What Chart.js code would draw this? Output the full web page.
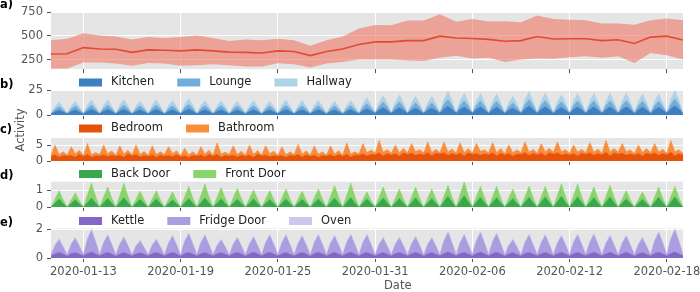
<!DOCTYPE html>
<html>
<head>
<meta charset="utf-8">
<script src="https://cdn.jsdelivr.net/npm/chart.js@4.4.1/dist/chart.umd.min.js"></script>
<style>
  body { margin: 0; width: 700px; height: 292px; overflow: hidden; position: relative; background: #fff; }
  canvas { position: absolute; left: 0; }
  .tag { position: absolute; left: 0; font: bold 11.5px "DejaVu Sans"; line-height: 11.5px; color: #000; }
  .axlab { position: absolute; font: 11.5px "DejaVu Sans"; line-height: 11.5px; color: #555; white-space: nowrap; }
</style>
</head>
<body>
<canvas id="pa" width="720" height="80" style="top:0px"></canvas>
<canvas id="pb" width="720" height="52" style="top:74px"></canvas>
<canvas id="pc" width="720" height="52" style="top:120px"></canvas>
<canvas id="pd" width="720" height="52" style="top:166px"></canvas>
<canvas id="pe" width="720" height="80" style="top:212px"></canvas>

<div class="tag" style="top:-1px">a)</div>
<div class="tag" style="top:78.5px">b)</div>
<div class="tag" style="top:123.5px">c)</div>
<div class="tag" style="top:169.5px">d)</div>
<div class="tag" style="top:217px">e)</div>
<div class="axlab" style="left:-1px;top:124px;transform:rotate(-90deg);transform-origin:21.5px 6px;">Activity</div>
<div class="axlab" style="left:384px;top:280px">Date</div>

<script>
// x axis: days counted from the first day shown
const startDay = '2020-01-11';
const xTickLabels = ['2020-01-13', '2020-01-19', '2020-01-25', '2020-01-31', '2020-02-06', '2020-02-12', '2020-02-18'];

// a) daily activity, mean with spread band (one value per day, 2020-01-11 .. 2020-02-19)
const aMean  = [310,313,377,363,360,327,353,350,343,353,343,330,327,320,343,337,293,337,363,410,
                437,437,450,450,497,477,473,463,443,450,493,467,470,470,450,460,420,487,497,457];
const aUpper = [453,470,527,503,493,463,487,477,487,503,477,447,463,453,470,453,397,453,493,577,
                613,610,660,660,727,647,677,650,653,643,713,677,670,663,630,630,617,663,683,663];
const aLower = [158,158,220,220,210,187,217,210,187,193,203,193,180,180,213,203,170,210,227,253,
                253,253,243,237,270,293,263,270,227,253,263,260,277,287,270,287,217,320,297,253];
const aTicks = [250, 500, 750];

// b)-e) values every 6 hours (00h, 06h, 12h, 18h per day), last value = 2020-02-19 00h
const kitchen = [
  1.3,3.6,5.1,3.3, 1.4,3.8,5.4,3.5, 1.4,4.1,5.9,3.8, 1.5,4.1,5.9,3.8, 1.4,4.2,6.0,3.9,
  1.3,3.8,5.4,3.5, 1.4,4.1,5.9,3.8, 1.3,3.9,5.6,3.6, 1.5,4.5,6.4,4.2, 1.3,3.9,5.6,3.6,
  1.4,3.9,5.5,3.6, 1.3,3.8,5.4,3.5, 1.4,3.9,5.6,3.6, 1.3,3.8,5.4,3.5, 1.5,4.1,5.9,3.8,
  1.3,3.9,5.6,3.6, 1.4,3.9,5.6,3.7, 1.3,3.8,5.4,3.5, 1.4,3.9,5.6,3.6, 1.6,4.7,6.7,4.4,
  1.8,5.3,7.6,4.9, 1.9,5.5,7.8,5.1, 1.8,5.1,7.3,4.7, 1.8,5.1,7.3,4.8, 2.1,6.5,9.3,6.0,
  2.0,5.9,8.4,5.5, 2.0,5.9,8.4,5.5, 1.9,5.7,8.2,5.3, 1.8,5.1,7.3,4.7, 2.1,6.4,9.1,5.9,
  2.0,6.0,8.6,5.6, 1.9,5.5,7.8,5.1, 2.0,5.9,8.4,5.5, 2.0,5.9,8.4,5.5, 2.0,5.9,8.4,5.5,
  2.0,6.0,8.6,5.6, 1.9,5.7,8.2,5.3, 1.9,5.7,8.2,5.3, 2.1,6.7,9.5,6.2, 1.6];
const lounge = [
  0.1,2.4,3.7,2.2, 0.1,2.6,4.0,2.4, 0.1,2.9,4.4,2.6, 0.1,2.9,4.4,2.6, 0.1,2.8,4.3,2.6,
  0.1,2.6,4.0,2.4, 0.1,2.9,4.4,2.6, 0.1,2.7,4.1,2.5, 0.1,3.1,4.7,2.8, 0.1,2.7,4.1,2.5,
  0.1,2.7,4.1,2.5, 0.1,2.6,4.0,2.4, 0.1,2.7,4.1,2.5, 0.1,2.6,4.0,2.4, 0.1,2.9,4.4,2.6,
  0.1,2.7,4.1,2.5, 0.1,2.7,4.1,2.5, 0.1,2.6,4.0,2.4, 0.1,2.7,4.1,2.5, 0.1,3.3,5.0,3.0,
  0.2,3.6,5.6,3.4, 0.2,3.8,5.8,3.5, 0.2,3.4,5.3,3.2, 0.2,3.4,5.3,3.2, 0.2,4.4,6.8,4.1,
  0.2,4.0,6.2,3.7, 0.2,4.0,6.2,3.7, 0.2,3.9,6.0,3.6, 0.2,3.4,5.3,3.2, 0.2,4.4,6.7,4.0,
  0.2,4.1,6.3,3.8, 0.2,3.8,5.8,3.5, 0.2,4.0,6.2,3.7, 0.2,4.0,6.2,3.7, 0.2,4.0,6.2,3.7,
  0.2,4.1,6.3,3.8, 0.2,3.9,6.0,3.6, 0.2,3.9,6.0,3.6, 0.2,4.6,7.0,4.2, 0.1];
const hallway = [
  0,2.7,4.5,2.5, 0,2.9,4.8,2.6, 0,3.2,5.3,2.9, 0,3.2,5.3,2.9, 0,3.2,5.3,2.9,
  0,2.9,4.8,2.6, 0,3.2,5.3,2.9, 0,3.0,5.0,2.8, 0,3.4,5.7,3.1, 0,3.0,5.0,2.8,
  0,2.9,4.9,2.7, 0,2.9,4.8,2.6, 0,3.0,5.0,2.8, 0,2.9,4.8,2.6, 0,3.2,5.3,2.9,
  0,3.0,5.0,2.8, 0,3.0,5.0,2.8, 0,2.9,4.8,2.6, 0,3.0,5.0,2.8, 0,3.6,6.0,3.3,
  0,4.1,6.8,3.7, 0,4.2,7.0,3.9, 0,3.9,6.5,3.6, 0,3.9,6.5,3.6, 0,5.0,8.3,4.6,
  0,4.5,7.5,4.1, 0,4.4,7.4,4.1, 0,4.4,7.3,4.0, 0,3.9,6.5,3.6, 0,4.9,8.2,4.5,
  0,4.6,7.7,4.2, 0,4.2,7.0,3.9, 0,4.4,7.4,4.1, 0,4.4,7.4,4.1, 0,4.4,7.4,4.1,
  0,4.6,7.7,4.2, 0,4.4,7.3,4.0, 0,4.4,7.3,4.0, 0,5.1,8.5,4.7, 0];

const bedroom = [
  1.5,2.0,1.2,1.8, 1.6,1.8,1.3,2.2, 1.4,2.1,1.2,1.7, 1.6,2.0,1.4,1.9, 1.5,1.9,1.2,2.3,
  1.7,2.1,1.3,1.8, 1.5,2.0,1.2,1.9, 1.6,1.8,1.4,2.0, 1.4,1.7,1.2,1.8, 1.6,2.0,1.3,2.1,
  1.5,2.2,1.2,1.8, 1.6,1.9,1.3,1.9, 1.5,2.0,1.2,2.2, 1.7,1.9,1.4,1.8, 1.5,1.8,1.2,1.9,
  1.6,2.1,1.3,2.0, 1.5,1.9,1.2,1.8, 1.6,2.0,1.4,2.1, 1.5,2.2,1.3,1.9, 1.8,2.3,1.6,2.2,
  2.0,2.6,1.7,2.4, 1.9,2.4,1.6,2.6, 2.1,2.5,1.8,2.3, 2.0,2.7,1.7,2.5, 2.2,2.6,1.8,2.4,
  2.0,2.5,1.7,2.6, 2.1,2.4,1.9,2.3, 2.0,2.6,1.7,2.5, 1.9,2.4,1.6,2.2, 2.1,2.7,1.8,2.4,
  2.0,2.5,1.7,2.6, 2.2,2.6,1.9,2.3, 2.0,2.4,1.7,2.5, 2.1,2.6,1.8,2.4, 2.0,2.8,1.7,2.6,
  2.2,2.5,1.9,2.3, 1.9,2.4,1.6,2.5, 2.1,2.6,1.8,2.4, 2.0,2.8,1.7,2.3, 1.9];
const bathroom = [
  0.4,3.0,0.9,1.1, 0.3,2.7,1.0,1.2, 0.4,3.4,0.8,1.0, 0.5,3.0,0.9,1.3, 0.4,2.9,1.0,1.1,
  0.3,2.9,0.8,1.2, 0.4,2.8,0.9,1.0, 0.5,2.7,1.0,1.2, 0.4,2.3,0.8,1.1, 0.3,2.5,0.9,1.3,
  0.4,3.5,1.0,1.0, 0.5,2.9,0.8,1.2, 0.4,3.0,0.9,1.1, 0.3,2.9,1.0,1.3, 0.4,2.7,0.8,1.0,
  0.5,3.1,0.9,1.2, 0.4,2.9,1.0,1.1, 0.3,2.8,0.8,1.2, 0.4,3.5,0.9,1.0, 0.5,3.2,1.0,1.3,
  0.5,3.9,1.1,1.2, 0.6,2.6,1.0,1.4, 0.5,3.0,1.2,1.3, 0.6,3.3,1.0,1.2, 0.5,3.4,1.1,1.4,
  0.6,3.3,1.0,1.3, 0.5,3.1,1.2,1.2, 0.6,3.2,1.0,1.4, 0.5,2.6,1.1,1.3, 0.6,3.3,1.0,1.2,
  0.5,3.0,1.2,1.4, 0.6,3.4,1.0,1.3, 0.5,2.6,1.1,1.2, 0.6,3.2,1.0,1.4, 0.5,3.7,1.2,1.3,
  0.6,3.0,1.0,1.2, 0.5,2.6,1.1,1.4, 0.6,2.9,1.0,1.3, 0.5,3.7,1.2,1.2, 0.5];

const backDoor = [
  0,0.25,0.50,0.22, 0,0.23,0.45,0.20, 0,0.28,0.55,0.25, 0,0.26,0.52,0.23, 0,0.29,0.58,0.26,
  0,0.24,0.48,0.22, 0,0.25,0.50,0.22, 0,0.22,0.44,0.20, 0,0.26,0.52,0.23, 0,0.28,0.55,0.25,
  0,0.25,0.50,0.22, 0,0.24,0.48,0.22, 0,0.25,0.50,0.22, 0,0.23,0.46,0.21, 0,0.25,0.50,0.22,
  0,0.24,0.47,0.21, 0,0.25,0.50,0.22, 0,0.28,0.55,0.25, 0,0.29,0.58,0.26, 0,0.25,0.50,0.22,
  0,0.28,0.55,0.25, 0,0.26,0.52,0.23, 0,0.28,0.56,0.25, 0,0.26,0.52,0.23, 0,0.33,0.66,0.30,
  0,0.35,0.70,0.32, 0,0.30,0.60,0.27, 0,0.29,0.58,0.26, 0,0.26,0.52,0.23, 0,0.30,0.60,0.27,
  0,0.31,0.62,0.28, 0,0.33,0.65,0.29, 0,0.31,0.62,0.28, 0,0.29,0.58,0.26, 0,0.31,0.62,0.28,
  0,0.25,0.50,0.22, 0,0.24,0.48,0.22, 0,0.30,0.60,0.27, 0,0.31,0.62,0.28, 0];
const frontDoor = [
  0,0.25,0.50,0.22, 0,0.21,0.41,0.18, 0,0.46,0.92,0.41, 0,0.35,0.69,0.31, 0,0.43,0.86,0.39,
  0,0.25,0.49,0.22, 0,0.25,0.50,0.22, 0,0.24,0.48,0.22, 0,0.37,0.74,0.33, 0,0.43,0.85,0.38,
  0,0.34,0.68,0.31, 0,0.33,0.65,0.29, 0,0.28,0.55,0.25, 0,0.27,0.54,0.24, 0,0.30,0.59,0.27,
  0,0.25,0.50,0.22, 0,0.30,0.59,0.27, 0,0.38,0.75,0.34, 0,0.43,0.86,0.39, 0,0.21,0.42,0.19,
  0,0.33,0.66,0.30, 0,0.29,0.57,0.26, 0,0.33,0.65,0.29, 0,0.29,0.57,0.26, 0,0.33,0.66,0.30,
  0,0.42,0.83,0.37, 0,0.33,0.66,0.30, 0,0.34,0.68,0.31, 0,0.29,0.57,0.26, 0,0.33,0.66,0.30,
  0,0.32,0.64,0.29, 0,0.38,0.75,0.34, 0,0.39,0.78,0.35, 0,0.32,0.63,0.28, 0,0.35,0.70,0.32,
  0,0.25,0.50,0.22, 0,0.22,0.44,0.20, 0,0.31,0.61,0.27, 0,0.32,0.64,0.29, 0];

const kettle = [
  0.15,0.30,0.40,0.28, 0.14,0.32,0.38,0.27, 0.16,0.31,0.42,0.29, 0.15,0.30,0.40,0.28, 0.14,0.29,0.39,0.27,
  0.15,0.30,0.37,0.26, 0.16,0.31,0.40,0.28, 0.15,0.30,0.41,0.29, 0.14,0.32,0.40,0.28, 0.15,0.30,0.39,0.27,
  0.16,0.29,0.38,0.27, 0.15,0.31,0.40,0.28, 0.14,0.30,0.41,0.29, 0.15,0.32,0.40,0.28, 0.16,0.30,0.39,0.27,
  0.15,0.29,0.40,0.28, 0.14,0.31,0.41,0.29, 0.15,0.30,0.40,0.28, 0.16,0.32,0.42,0.29, 0.15,0.31,0.41,0.28,
  0.15,0.30,0.39,0.27, 0.16,0.31,0.40,0.28, 0.15,0.30,0.41,0.29, 0.14,0.30,0.39,0.27, 0.16,0.32,0.43,0.30,
  0.15,0.31,0.41,0.28, 0.16,0.32,0.42,0.29, 0.15,0.31,0.41,0.29, 0.14,0.29,0.38,0.27, 0.15,0.31,0.41,0.28,
  0.16,0.30,0.40,0.28, 0.15,0.31,0.41,0.29, 0.15,0.31,0.40,0.28, 0.16,0.30,0.41,0.29, 0.15,0.30,0.40,0.28,
  0.15,0.31,0.40,0.28, 0.14,0.30,0.39,0.27, 0.16,0.32,0.42,0.29, 0.16,0.33,0.43,0.30, 0.15];
const fridgeDoor = [
  0.05,0.57,0.87,0.48, 0.05,0.64,0.98,0.54, 0.05,0.98,1.50,0.83, 0.05,0.76,1.17,0.64, 0.05,0.67,1.03,0.57,
  0.05,0.52,0.80,0.44, 0.05,0.57,0.87,0.48, 0.05,0.72,1.10,0.61, 0.05,0.82,1.26,0.69, 0.05,0.76,1.17,0.64,
  0.05,0.57,0.87,0.48, 0.05,0.64,0.98,0.54, 0.05,0.67,1.03,0.57, 0.05,0.76,1.17,0.64, 0.05,0.76,1.17,0.64,
  0.05,0.72,1.10,0.61, 0.05,0.76,1.17,0.64, 0.05,0.72,1.10,0.61, 0.05,0.76,1.17,0.64, 0.05,0.76,1.17,0.64,
  0.05,0.64,0.98,0.54, 0.05,0.64,0.98,0.54, 0.05,0.67,1.03,0.57, 0.05,0.64,0.98,0.54, 0.05,0.86,1.33,0.73,
  0.05,0.76,1.17,0.64, 0.05,0.86,1.33,0.73, 0.05,0.82,1.26,0.69, 0.05,0.57,0.87,0.48, 0.05,0.76,1.17,0.64,
  0.05,0.76,1.17,0.64, 0.05,0.72,1.10,0.61, 0.05,0.78,1.20,0.66, 0.05,0.78,1.20,0.66, 0.05,0.72,1.10,0.61,
  0.05,0.72,1.10,0.61, 0.05,0.64,0.98,0.54, 0.05,0.86,1.33,0.73, 0.05,0.99,1.52,0.84, 0.05];
const oven = [
  0,0.06,0.10,0.05, 0,0.05,0.10,0.05, 0,0.07,0.11,0.06, 0,0.06,0.10,0.05, 0,0.05,0.09,0.05,
  0,0.06,0.10,0.05, 0,0.06,0.10,0.05, 0,0.05,0.10,0.05, 0,0.07,0.11,0.06, 0,0.06,0.10,0.05,
  0,0.05,0.09,0.05, 0,0.06,0.10,0.05, 0,0.06,0.10,0.05, 0,0.05,0.10,0.05, 0,0.06,0.11,0.06,
  0,0.06,0.10,0.05, 0,0.05,0.10,0.05, 0,0.06,0.10,0.05, 0,0.06,0.10,0.05, 0,0.06,0.11,0.05,
  0,0.05,0.10,0.05, 0,0.06,0.10,0.05, 0,0.06,0.10,0.05, 0,0.05,0.09,0.05, 0,0.07,0.12,0.06,
  0,0.06,0.10,0.05, 0,0.07,0.12,0.06, 0,0.06,0.11,0.06, 0,0.05,0.09,0.05, 0,0.06,0.10,0.05,
  0,0.06,0.10,0.05, 0,0.06,0.10,0.05, 0,0.06,0.11,0.05, 0,0.06,0.10,0.05, 0,0.06,0.10,0.05,
  0,0.06,0.10,0.05, 0,0.05,0.10,0.05, 0,0.07,0.12,0.06, 0,0.07,0.12,0.06, 0];

const START = Date.parse(startDay);
const xTickPos = xTickLabels.map(d => (Date.parse(d) - START) / 864e5);

Chart.defaults.font.family = '"DejaVu Sans"';
Chart.defaults.font.size = 11.5;
Chart.defaults.color = '#555555';

// grey panel background like ggplot
const panelBg = {
  id: 'panelBg',
  beforeDraw(chart) {
    const a = chart.chartArea, ctx = chart.ctx;
    ctx.save();
    ctx.fillStyle = '#E5E5E5';
    ctx.fillRect(a.left, a.top, a.right - a.left, a.bottom - a.top);
    ctx.restore();
  }
};

// one-row legend with wide patches, placed in the gap above each panel
const boxLegend = {
  id: 'boxLegend',
  afterDraw(chart, args, opts) {
    if (!opts.show) return;
    const ctx = chart.ctx;
    ctx.save();
    ctx.font = '11.5px "DejaVu Sans"';
    ctx.textBaseline = 'middle';
    let x = opts.x;
    chart.data.datasets.forEach(ds => {
      ctx.fillStyle = ds.backgroundColor;
      ctx.fillRect(x, opts.y - 4, 23, 8);
      ctx.fillStyle = '#222';
      ctx.fillText(ds.label, x + 32, opts.y);
      x += 32 + ctx.measureText(ds.label).width + 23;
    });
    ctx.restore();
  }
};

function xAxis(showLabels, h) {
  return {
    type: 'linear', min: 0, max: 39,
    afterBuildTicks: s => { s.ticks = xTickPos.map(v => ({ value: v })); },
    afterFit: s => { s.height = h; },
    grid: { color: '#fff', lineWidth: 1, drawTicks: true, tickLength: 4, tickColor: '#555' },
    border: { display: false },
    ticks: {
      display: showLabels, color: '#555', padding: 3, maxRotation: 0, autoSkip: false,
      callback: v => xTickLabels[xTickPos.indexOf(v)]
    }
  };
}

function yAxis(min, max, ticks, stacked) {
  return {
    type: 'linear', min: min, max: max, stacked: stacked,
    afterBuildTicks: s => { s.ticks = ticks.map(v => ({ value: v })); },
    afterFit: s => { s.width = 46; },
    grid: { color: '#fff', lineWidth: 1, drawTicks: true, tickLength: 4, tickColor: '#555' },
    border: { display: false },
    ticks: { color: '#555', padding: 4 }
  };
}

const pts = vals => vals.map((v, i) => ({ x: i / 4, y: v }));

function stackPanel(id, layers, yMin, yMax, yTicks, pad, xH, legendY, showX) {
  new Chart(document.getElementById(id), {
    type: 'line',
    data: {
      datasets: layers.map((l, i) => ({
        label: l.label,
        data: pts(l.data),
        backgroundColor: l.color,
        borderColor: l.color,
        borderWidth: 0.5,
        pointRadius: 0,
        fill: i === 0 ? 'origin' : '-1'
      }))
    },
    options: {
      responsive: false, animation: false, devicePixelRatio: 1,
      layout: { padding: pad },
      scales: { x: xAxis(showX, xH), y: yAxis(yMin, yMax, yTicks, true) },
      plugins: { legend: { display: false }, tooltip: { enabled: false },
                 boxLegend: { show: true, x: 79, y: legendY } }
    },
    plugins: [panelBg, boxLegend]
  });
}

// a)
new Chart(document.getElementById('pa'), {
  type: 'line',
  data: {
    datasets: [
      { data: aMean.map((v, i) => ({ x: i, y: v })), borderColor: '#E24A33', borderWidth: 1.6,
        pointRadius: 0, fill: false },
      { data: aUpper.map((v, i) => ({ x: i, y: v })), borderWidth: 0, pointRadius: 0,
        fill: '+1', backgroundColor: 'rgba(240,118,98,0.6)' },
      { data: aLower.map((v, i) => ({ x: i, y: v })), borderWidth: 0, pointRadius: 0, fill: false }
    ]
  },
  options: {
    responsive: false, animation: false, devicePixelRatio: 1,
    layout: { padding: { left: 5, right: 37, top: 12, bottom: 3 } },
    scales: { x: xAxis(false, 5), y: yAxis(152, 750, aTicks, false) },
    plugins: { legend: { display: false }, tooltip: { enabled: false }, boxLegend: { show: false } }
  },
  plugins: [panelBg, boxLegend]
});

stackPanel('pb', [
  { label: 'Kitchen', data: kitchen, color: '#3d7fc1' },
  { label: 'Lounge', data: lounge, color: '#74acd9' },
  { label: 'Hallway', data: hallway, color: '#aed2e8' }
], 0, 25.4, [0, 25], { left: 5, right: 37, top: 16, bottom: 2 }, 5, 8.5, false);

stackPanel('pc', [
  { label: 'Bedroom', data: bedroom, color: '#e5520a' },
  { label: 'Bathroom', data: bathroom, color: '#fb8c3a' }
], 0, 7.2, [0, 5], { left: 5, right: 37, top: 18, bottom: 2 }, 5, 8.5, false);

stackPanel('pd', [
  { label: 'Back Door', data: backDoor, color: '#38a84a' },
  { label: 'Front Door', data: frontDoor, color: '#8ad46c' }
], 0, 1.53, [0, 1], { left: 5, right: 37, top: 15.7, bottom: 2 }, 5, 8, false);

stackPanel('pe', [
  { label: 'Kettle', data: kettle, color: '#8267c5' },
  { label: 'Fridge Door', data: fridgeDoor, color: '#aa9de0' },
  { label: 'Oven', data: oven, color: '#cdc6ee' }
], 0, 2.07, [0, 2], { left: 5, right: 37, top: 16.5, bottom: 12 }, 22, 9, true);
</script>
</body>
</html>
